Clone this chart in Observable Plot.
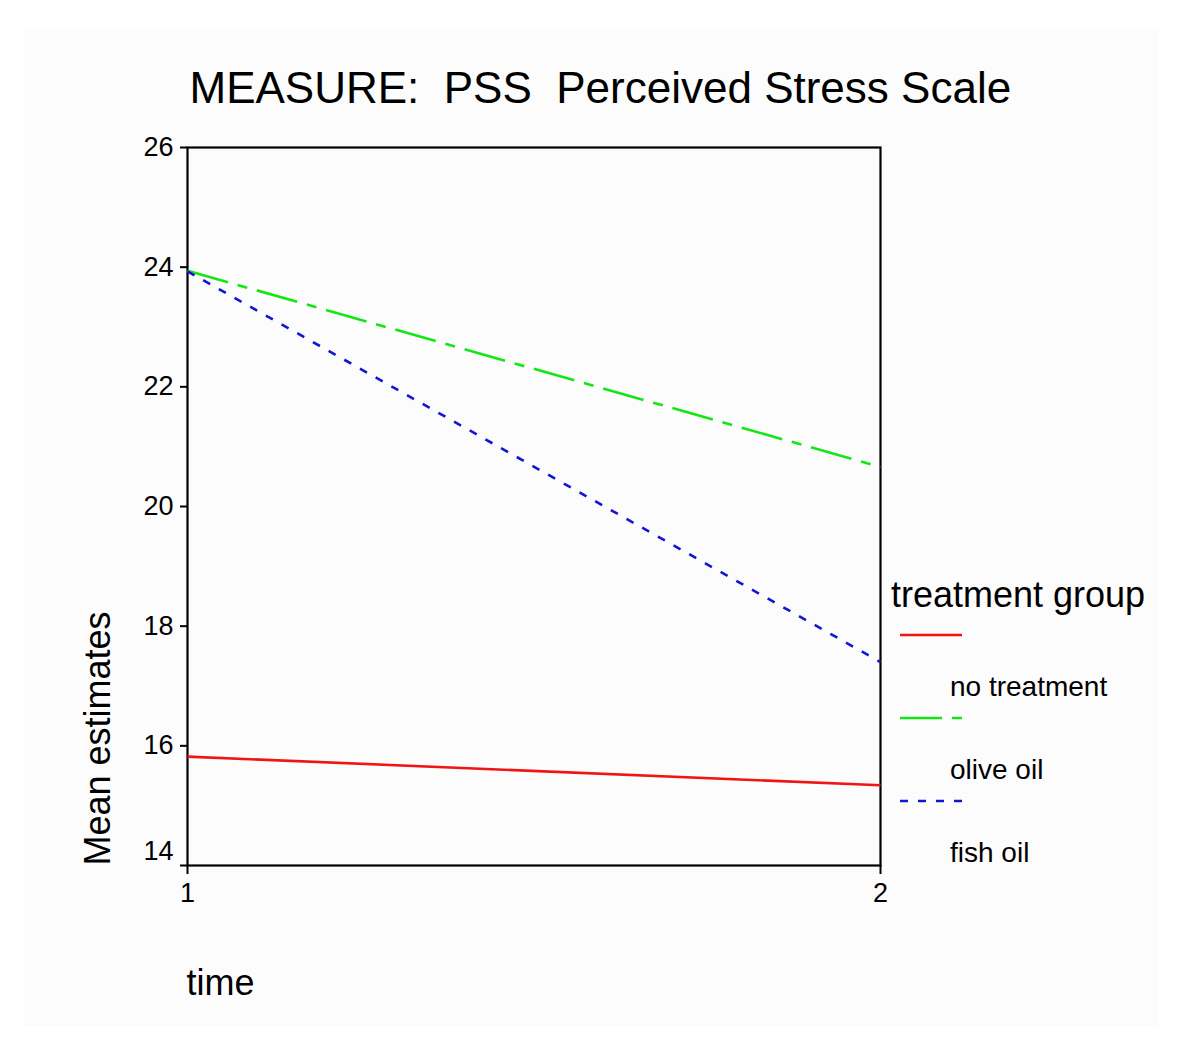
<!DOCTYPE html>
<html>
<head>
<meta charset="utf-8">
<script src="https://cdn.jsdelivr.net/npm/d3@7"></script>
<script src="https://cdn.jsdelivr.net/npm/@observablehq/plot@0.6"></script>
<style>
  html, body { margin: 0; padding: 0; background: #ffffff; }
  #wrap { position: relative; width: 1200px; height: 1042px; }
  #bg { position: absolute; left: 24px; top: 28px; width: 1134px; height: 998px; background: #fcfcfc; }
  #chart { position: absolute; left: 0; top: 0; }
  #chart svg { background: transparent; }
</style>
</head>
<body>
<div id="wrap"><div id="bg"></div><div id="chart"></div></div>
<script>
// ---- data ----
const times = [1, 2];
const groups = ["no treatment", "olive oil", "fish oil"];
const noTreatment = [15.82, 15.34];
const oliveOil = [23.94, 20.66];
const fishOil = [23.93, 17.40];
const yTicks = [14, 16, 18, 20, 22, 24, 26];
const xTicks = [1, 2];
const groupColors = ["#f01414", "#14e614", "#1414d2"];
const groupDashes = [null, "42,10,10,10", "8,10"];
const titleText = "MEASURE:  PSS  Perceived Stress Scale";
const xLabel = "time";
const yLabel = "Mean estimates";
const legendTitle = "treatment group";

const seriesValues = [noTreatment, oliveOil, fishOil];
const rows = groups.flatMap((g, gi) => times.map((t, ti) => ({group: g, time: t, value: seriesValues[gi][ti]})));

const font = "'Liberation Sans', Arial, Helvetica, sans-serif";

const lineMarks = groups.map((g, gi) => Plot.line(rows.filter(r => r.group === g), {
  x: "time", y: "value",
  stroke: groupColors[gi], strokeWidth: 2.6,
  strokeDasharray: groupDashes[gi] || undefined,
  strokeLinecap: "butt"
}));

const chart = Plot.plot({
  width: 1200,
  height: 1042,
  marginLeft: 187,
  marginRight: 320,
  marginTop: 147,
  marginBottom: 177,
  style: {fontFamily: font, background: "transparent", color: "black"},
  x: {domain: [1, 2], type: "linear"},
  y: {domain: [14, 26], type: "linear"},
  marks: [
    Plot.frame({stroke: "black", strokeWidth: 2.2}),
    ...lineMarks,
    Plot.axisY({ticks: yTicks.filter(t => t !== 14), tickSize: 7, tickPadding: 7, fontSize: 27, label: null, strokeWidth: 2, tickFormat: d3.format("d")}),
    Plot.axisY({ticks: [14], tickSize: 7, tickFormat: () => "", label: null, strokeWidth: 2}),
    Plot.text([14], {y: d => d, text: d => String(d), frameAnchor: "left", dx: -14, dy: -14, textAnchor: "end", fontSize: 27}),
    Plot.axisX({ticks: xTicks, tickSize: 9, tickPadding: 8, fontSize: 27, label: null, strokeWidth: 2, tickFormat: d3.format("d")}),
    Plot.text([titleText], {frameAnchor: "top-left", dx: 2, dy: -59, textAnchor: "start", lineAnchor: "middle", fontSize: 44}),
    Plot.text([xLabel], {frameAnchor: "bottom-left", dx: -1, dy: 118, textAnchor: "start", lineAnchor: "middle", fontSize: 36}),
    Plot.text([yLabel], {frameAnchor: "bottom-left", dx: -89, dy: 0, rotate: -90, textAnchor: "start", lineAnchor: "middle", fontSize: 36})
  ]
});

document.getElementById("chart").appendChild(chart);

// ---- legend (right of the plot) ----
const svg = d3.select(chart);
const lg = svg.append("g").attr("font-family", font).attr("text-anchor", "start");
lg.append("text").attr("x", 891).attr("y", 594).attr("dy", "0.35em").attr("text-anchor", "start")
  .attr("font-size", 36).attr("fill", "black").text(legendTitle);
groups.forEach((g, i) => {
  const y0 = 635 + i * 83;
  const ln = lg.append("line").attr("x1", 900).attr("x2", 962).attr("y1", y0).attr("y2", y0)
    .attr("stroke", groupColors[i]).attr("stroke-width", 2.6);
  if (groupDashes[i]) ln.attr("stroke-dasharray", groupDashes[i]);
  lg.append("text").attr("x", 950).attr("y", y0 + 51).attr("dy", "0.35em").attr("text-anchor", "start")
    .attr("font-size", 28).attr("fill", "black").text(g);
});
</script>
</body>
</html>
